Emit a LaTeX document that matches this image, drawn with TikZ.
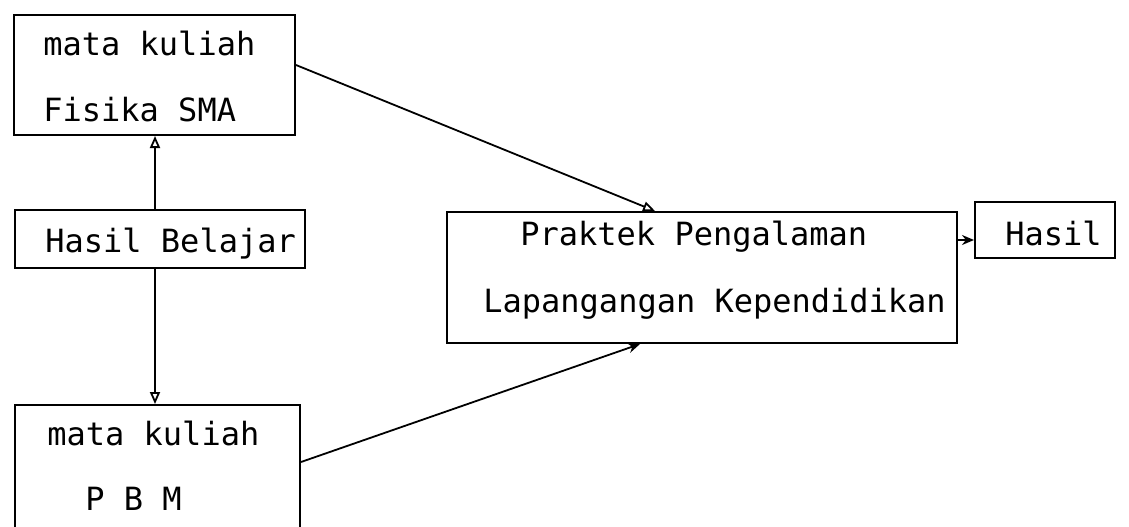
\documentclass[tikz,border=0pt]{standalone}
\usepackage{fontspec}
\setmonofont{DejaVu Sans Mono}
\usetikzlibrary{arrows.meta}
\begin{document}
\begin{tikzpicture}[x=0.5pt,y=-0.5pt,
  box/.style={draw,line width=1pt,inner sep=0pt,minimum width=#1},
  lbl/.style={anchor=base west,inner sep=0pt,font=\fontsize{16}{19}\selectfont\ttfamily},
  arr/.style={line width=0.9pt,-{Triangle[open,length=6pt,width=5pt]}},
  arrf/.style={line width=0.9pt,-{Stealth[length=6pt,width=5pt]}}]
\useasboundingbox (0,0) rectangle (1129,526);
\node[box=140.5pt,minimum height=60pt] (box1) at (154.5,75) {};
\node[box=145pt,minimum height=29pt] (hb) at (160,239) {};
\node[box=142.5pt,minimum height=65pt] (pbm) at (157.5,470) {};
\node[box=255pt,minimum height=65.5pt] (praktek) at (702,277.5) {};
\node[box=70pt,minimum height=28pt] (hasil) at (1045,230) {};
\node[lbl] (t1) at (43,55) {mata kuliah};
\node[lbl] (t2) at (43,121) {Fisika SMA};
\node[lbl] (t3) at (45,252) {Hasil Belajar};
\node[lbl] (t4) at (47,445) {mata kuliah};
\node[lbl] (t5) at (85,510) {P B M};
\node[lbl] (t6) at (520,245) {Praktek Pengalaman};
\node[lbl] (t7) at (483,312) {Lapangangan Kependidikan};
\node[lbl] (t8) at (1005,245) {Hasil};
\draw[arr] (hb.north -| 155,0) -- (box1.south -| 155,0);
\draw[arr] (hb.south -| 155,0) -- (pbm.north -| 155,0);
\draw[arr] (box1.east |- 0,65) -- (praktek.north -| 655,0);
\draw[arrf] (pbm.east |- 0,462) -- (praktek.south -| 640,0);
\draw[arrf] (praktek.east |- 0,240) -- (hasil.west |- 0,240);
\end{tikzpicture}
\end{document}
